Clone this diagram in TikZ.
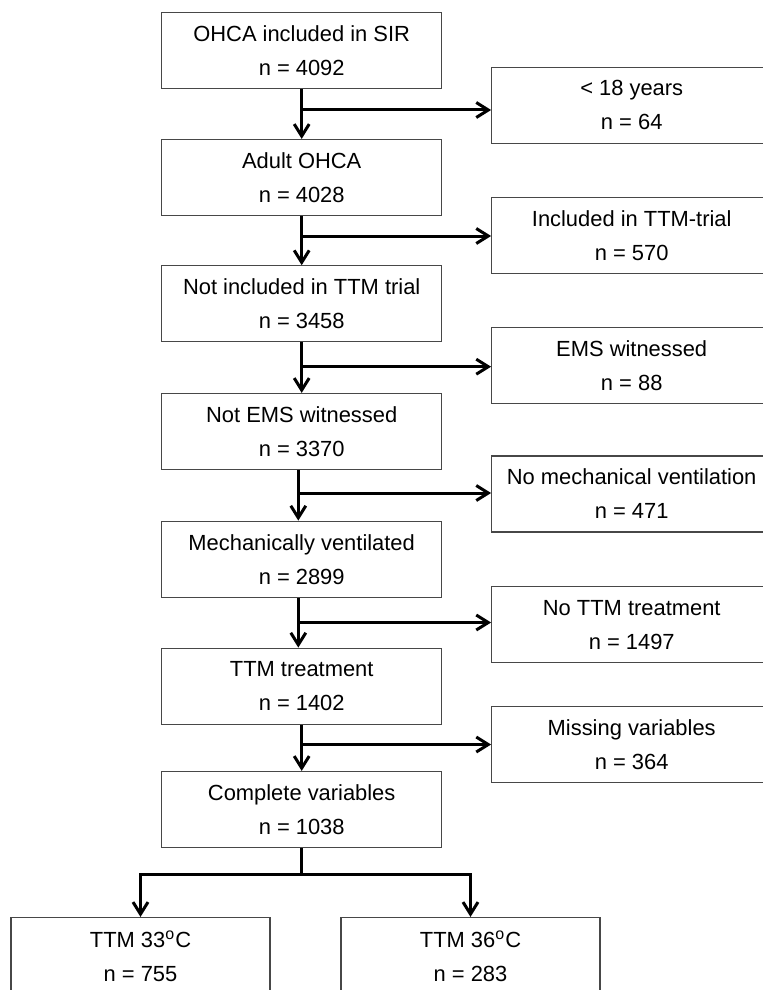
\documentclass[tikz,border=0pt]{standalone}
\usepackage{fontspec}
\setmainfont{Liberation Sans}
\usetikzlibrary{arrows.meta}
\begin{document}
\begin{tikzpicture}[x=0.5pt,y=-0.5pt,
  box/.style={draw=black!72, line width=0.6pt, minimum width=140pt, minimum height=38pt,
    inner sep=0pt, align=center, font=\fontsize{10.95}{17}\selectfont, text=black},
  lbox/.style={box, minimum width=129.5pt, minimum height=38.5pt},
  flow/.style={line width=1.5pt, line join=miter},
  arr/.style={flow, -{Straight Barb[length=6pt,width=7.5pt,line width=1.5pt]}}
]
\useasboundingbox (0,0) rectangle (763,990);

% main column
\node[box] (m1) at (301.7,50.3) {OHCA included in SIR\\n = 4092};
\node[box] (m2) at (301.7,177.5) {Adult OHCA\\n = 4028};
\node[box] (m3) at (301.7,303.8) {Not included in TTM trial\\n = 3458};
\node[box] (m4) at (301.7,431.5) {Not EMS witnessed\\n = 3370};
\node[box] (m5) at (301.7,559.2) {Mechanically ventilated\\n = 2899};
\node[box] (m6) at (301.7,686.2) {TTM treatment\\n = 1402};
\node[box] (m7) at (301.7,809.5) {Complete variables\\n = 1038};

% exclusion column
\node[box] (r1) at (631.7,105.3) {< 18 years\\n = 64};
\node[box] (r2) at (631.7,235.5) {Included in TTM-trial\\n = 570};
\node[box] (r3) at (631.7,365.3) {EMS witnessed\\n = 88};
\node[box] (r4) at (631.7,494.0) {No mechanical ventilation\\n = 471};
\node[box] (r5) at (631.7,624.8) {No TTM treatment\\n = 1497};
\node[box] (r6) at (631.7,744.3) {Missing variables\\n = 364};

% final groups
\node[lbox] (g1) at (140.5,956) {TTM 33\textsuperscript{o}C\\n = 755};
\node[lbox] (g2) at (470.5,956) {TTM 36\textsuperscript{o}C\\n = 283};

% vertical flow
\draw[arr] (m1.south) -- (m2.north);
\draw[arr] (m2.south) -- (m3.north);
\draw[arr] (m3.south) -- (m4.north);
\draw[arr] ([xshift=-1.7pt]m4.south) -- ([xshift=-1.7pt]m5.north);
\draw[arr] ([xshift=-1.7pt]m5.south) -- ([xshift=-1.7pt]m6.north);
\draw[arr] (m6.south) -- (m7.north);

% branches
\coordinate (b1) at (301.7,110);
\coordinate (b2) at (301.7,236);
\coordinate (b3) at (301.7,366.7);
\coordinate (b4) at (298.3,493);
\coordinate (b5) at (298.3,622.5);
\coordinate (b6) at (301.7,744.5);
\draw[arr] (b1) -- (b1 -| r1.west);
\draw[arr] (b2) -- (b2 -| r2.west);
\draw[arr] (b3) -- (b3 -| r3.west);
\draw[arr] (b4) -- (b4 -| r4.west);
\draw[arr] (b5) -- (b5 -| r5.west);
\draw[arr] (b6) -- (b6 -| r6.west);

% split
\coordinate (s) at (301.7,874);
\draw[flow] (m7.south) -- (s);
\draw[arr] (s) -| (g1.north);
\draw[arr] (s) -| (g2.north);
\end{tikzpicture}
\end{document}
